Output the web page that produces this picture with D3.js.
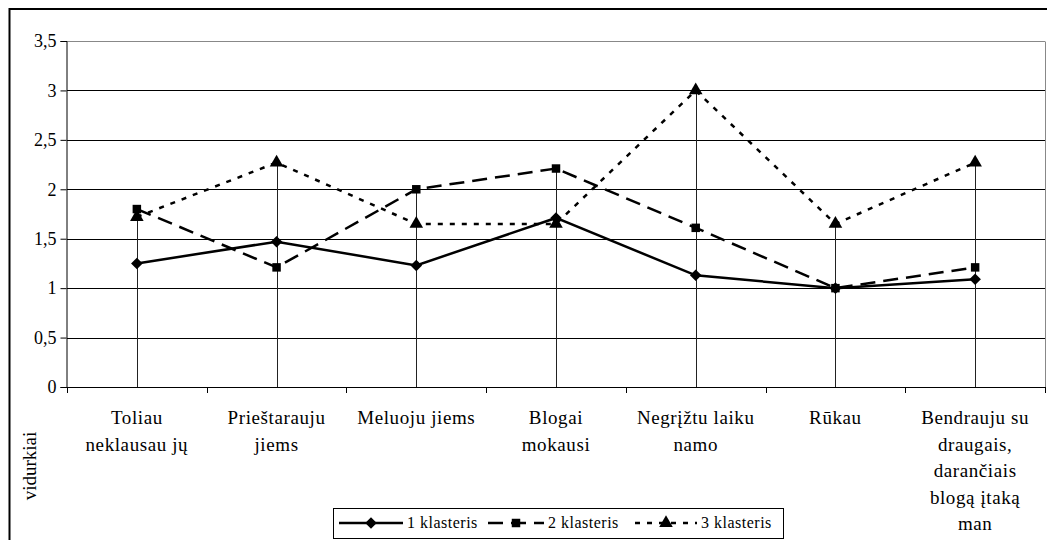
<!DOCTYPE html>
<html>
<head>
<meta charset="utf-8">
<script src="https://cdn.jsdelivr.net/npm/d3@7"></script>
<style>
  body { margin: 0; background: #fff; }
  svg text { font-family: "Liberation Serif", "Times New Roman", Tinos, "Noto Serif", "DejaVu Serif", "Nimbus Roman", "Nimbus Roman No9 L", FreeSerif, Georgia, serif; }
</style>
</head>
<body>
<svg id="chart" width="1047" height="540"></svg>
<script>
// categories (x axis labels, already split into lines)
var categories = ["Toliau neklausau jų", "Prieštarauju jiems", "Meluoju jiems", "Blogai mokausi",
                  "Negrįžtu laiku namo", "Rūkau", "Bendrauju su draugais, darančiais blogą įtaką man"];
var categoryLines = [["Toliau", "neklausau jų"], ["Prieštarauju", "jiems"], ["Meluoju jiems"],
                     ["Blogai", "mokausi"], ["Negrįžtu laiku", "namo"], ["Rūkau"],
                     ["Bendrauju su", "draugais,", "darančiais", "blogą įtaką", "man"]];
var seriesNames = ["1 klasteris", "2 klasteris", "3 klasteris"];
var cluster1 = [1.25, 1.47, 1.23, 1.71, 1.13, 1.0, 1.09];
var cluster2 = [1.80, 1.21, 2.00, 2.21, 1.61, 1.0, 1.21];
var cluster3 = [1.72, 2.27, 1.65, 1.65, 3.00, 1.65, 2.27];
var yTicks = [0, 0.5, 1, 1.5, 2, 2.5, 3, 3.5];
var yTitle = "vidurkiai";

var series = [
  {name: seriesNames[0], values: cluster1, dash: null, marker: d3.symbolDiamond2, size: 85},
  {name: seriesNames[1], values: cluster2, dash: "15,8", marker: d3.symbolSquare, size: 72},
  {name: seriesNames[2], values: cluster3, dash: "5,7", marker: d3.symbolTriangle, size: 80}
];

var svg = d3.select("#chart");
var plotLeft = 67, plotRight = 1045, plotTop = 41, plotBottom = 387;

var x = d3.scaleBand().domain(categories).range([plotLeft, plotRight]).paddingInner(0).paddingOuter(0);
var y = d3.scaleLinear().domain([0, 3.5]).range([plotBottom, plotTop]);
var cx = function(i) { return x(categories[i]) + x.bandwidth() / 2; };
var fmt = d3.formatLocale({decimal: ",", thousands: " ", grouping: [3], currency: ["", ""]}).format(".1~f");

// outer frame
svg.append("rect")
  .attr("x", 9.5).attr("y", 9).attr("width", 1200).attr("height", 700)
  .attr("fill", "none").attr("stroke", "#000").attr("stroke-width", 2);

// gridlines
svg.append("g").selectAll("line")
  .data(yTicks.filter(function(d) { return d > 0; }))
  .enter().append("line")
  .attr("x1", plotLeft).attr("x2", plotRight)
  .attr("y1", function(d) { return Math.round(y(d)) + 0.5; })
  .attr("y2", function(d) { return Math.round(y(d)) + 0.5; })
  .attr("stroke", function(d) { return d === 3.5 ? "#888" : "#000"; })
  .attr("stroke-width", 1);

// plot area right border
svg.append("line")
  .attr("x1", plotRight + 0.5).attr("x2", plotRight + 0.5)
  .attr("y1", Math.round(y(3.5)) + 0.5).attr("y2", plotBottom)
  .attr("stroke", "#888");

// y axis
var yAxis = d3.axisLeft(y).tickValues(yTicks).tickFormat(fmt).tickSize(6).tickPadding(4);
var yg = svg.append("g").attr("transform", "translate(" + (plotLeft - 0.5) + ",0)").call(yAxis);
yg.attr("font-family", null).attr("font-size", 18);
yg.select(".domain").attr("stroke", "#000");
yg.selectAll(".tick line").attr("stroke", "#000");
yg.selectAll("text").attr("fill", "#000");

// x axis line and ticks at category boundaries
var bounds = categories.map(function(c) { return x(c); }).concat([plotRight]);
svg.append("line")
  .attr("x1", plotLeft - 6).attr("x2", plotRight)
  .attr("y1", Math.round(plotBottom) + 0.5).attr("y2", Math.round(plotBottom) + 0.5)
  .attr("stroke", "#000");
svg.append("g").selectAll("line").data(bounds).enter().append("line")
  .attr("x1", function(d) { return Math.round(d) + 0.5; })
  .attr("x2", function(d) { return Math.round(d) + 0.5; })
  .attr("y1", plotBottom).attr("y2", plotBottom + 6)
  .attr("stroke", "#000");

// category labels
var labels = svg.append("g").selectAll("text").data(categoryLines).enter().append("text")
  .attr("text-anchor", "middle")
  .attr("font-size", 19)
  .attr("letter-spacing", 0.6);
labels.selectAll("tspan").data(function(d, i) { return d.map(function(s) { return {s: s, i: i}; }); })
  .enter().append("tspan")
  .attr("x", function(d) { return cx(d.i); })
  .attr("y", function(d, j) { return 424 + j * 26.5; })
  .text(function(d) { return d.s; });

// drop lines from the highest value down to 0
svg.append("g").selectAll("line").data(categories).enter().append("line")
  .attr("x1", function(d, i) { return Math.round(cx(i)) + 0.5; })
  .attr("x2", function(d, i) { return Math.round(cx(i)) + 0.5; })
  .attr("y1", function(d, i) { return y(d3.max(series, function(s) { return s.values[i]; })); })
  .attr("y2", plotBottom)
  .attr("stroke", "#222").attr("stroke-width", 1);

// series lines
var line = d3.line().x(function(d, i) { return cx(i); }).y(function(d) { return y(d); });
series.forEach(function(s) {
  svg.append("path")
    .attr("d", line(s.values))
    .attr("fill", "none").attr("stroke", "#000").attr("stroke-width", 2.5)
    .attr("stroke-dasharray", s.dash);
});

// markers
series.forEach(function(s) {
  svg.append("g").selectAll("path").data(s.values).enter().append("path")
    .attr("d", d3.symbol().type(s.marker).size(s.size))
    .attr("transform", function(d, i) { return "translate(" + cx(i) + "," + y(d) + ")"; })
    .attr("fill", "#000");
});

// y axis title
svg.append("text")
  .attr("transform", "translate(36,466) rotate(-90)")
  .attr("text-anchor", "middle")
  .attr("font-size", 19)
  .text(yTitle);

// legend
var legend = svg.append("g").attr("id", "legend");
legend.append("rect")
  .attr("x", 333.5).attr("y", 508.5).attr("width", 450).attr("height", 30)
  .attr("fill", "#fff").attr("stroke", "#000");
var legendX = [339, 488, 635];
var legendW = [64, 56, 62];
series.forEach(function(s, k) {
  var x0 = legendX[k], x1 = legendX[k] + legendW[k], ly = 523;
  legend.append("line")
    .attr("x1", x0).attr("x2", x1).attr("y1", ly).attr("y2", ly)
    .attr("stroke", "#000").attr("stroke-width", 2.5)
    .attr("stroke-dasharray", s.dash);
  legend.append("path")
    .attr("d", d3.symbol().type(s.marker).size(s.size))
    .attr("transform", "translate(" + (x0 + x1) / 2 + "," + ly + ")")
    .attr("fill", "#000");
  legend.append("text")
    .attr("x", x1 + 4).attr("y", ly + 5)
    .attr("font-size", 16).attr("letter-spacing", 0.5)
    .text(s.name);
});
</script>
</body>
</html>
